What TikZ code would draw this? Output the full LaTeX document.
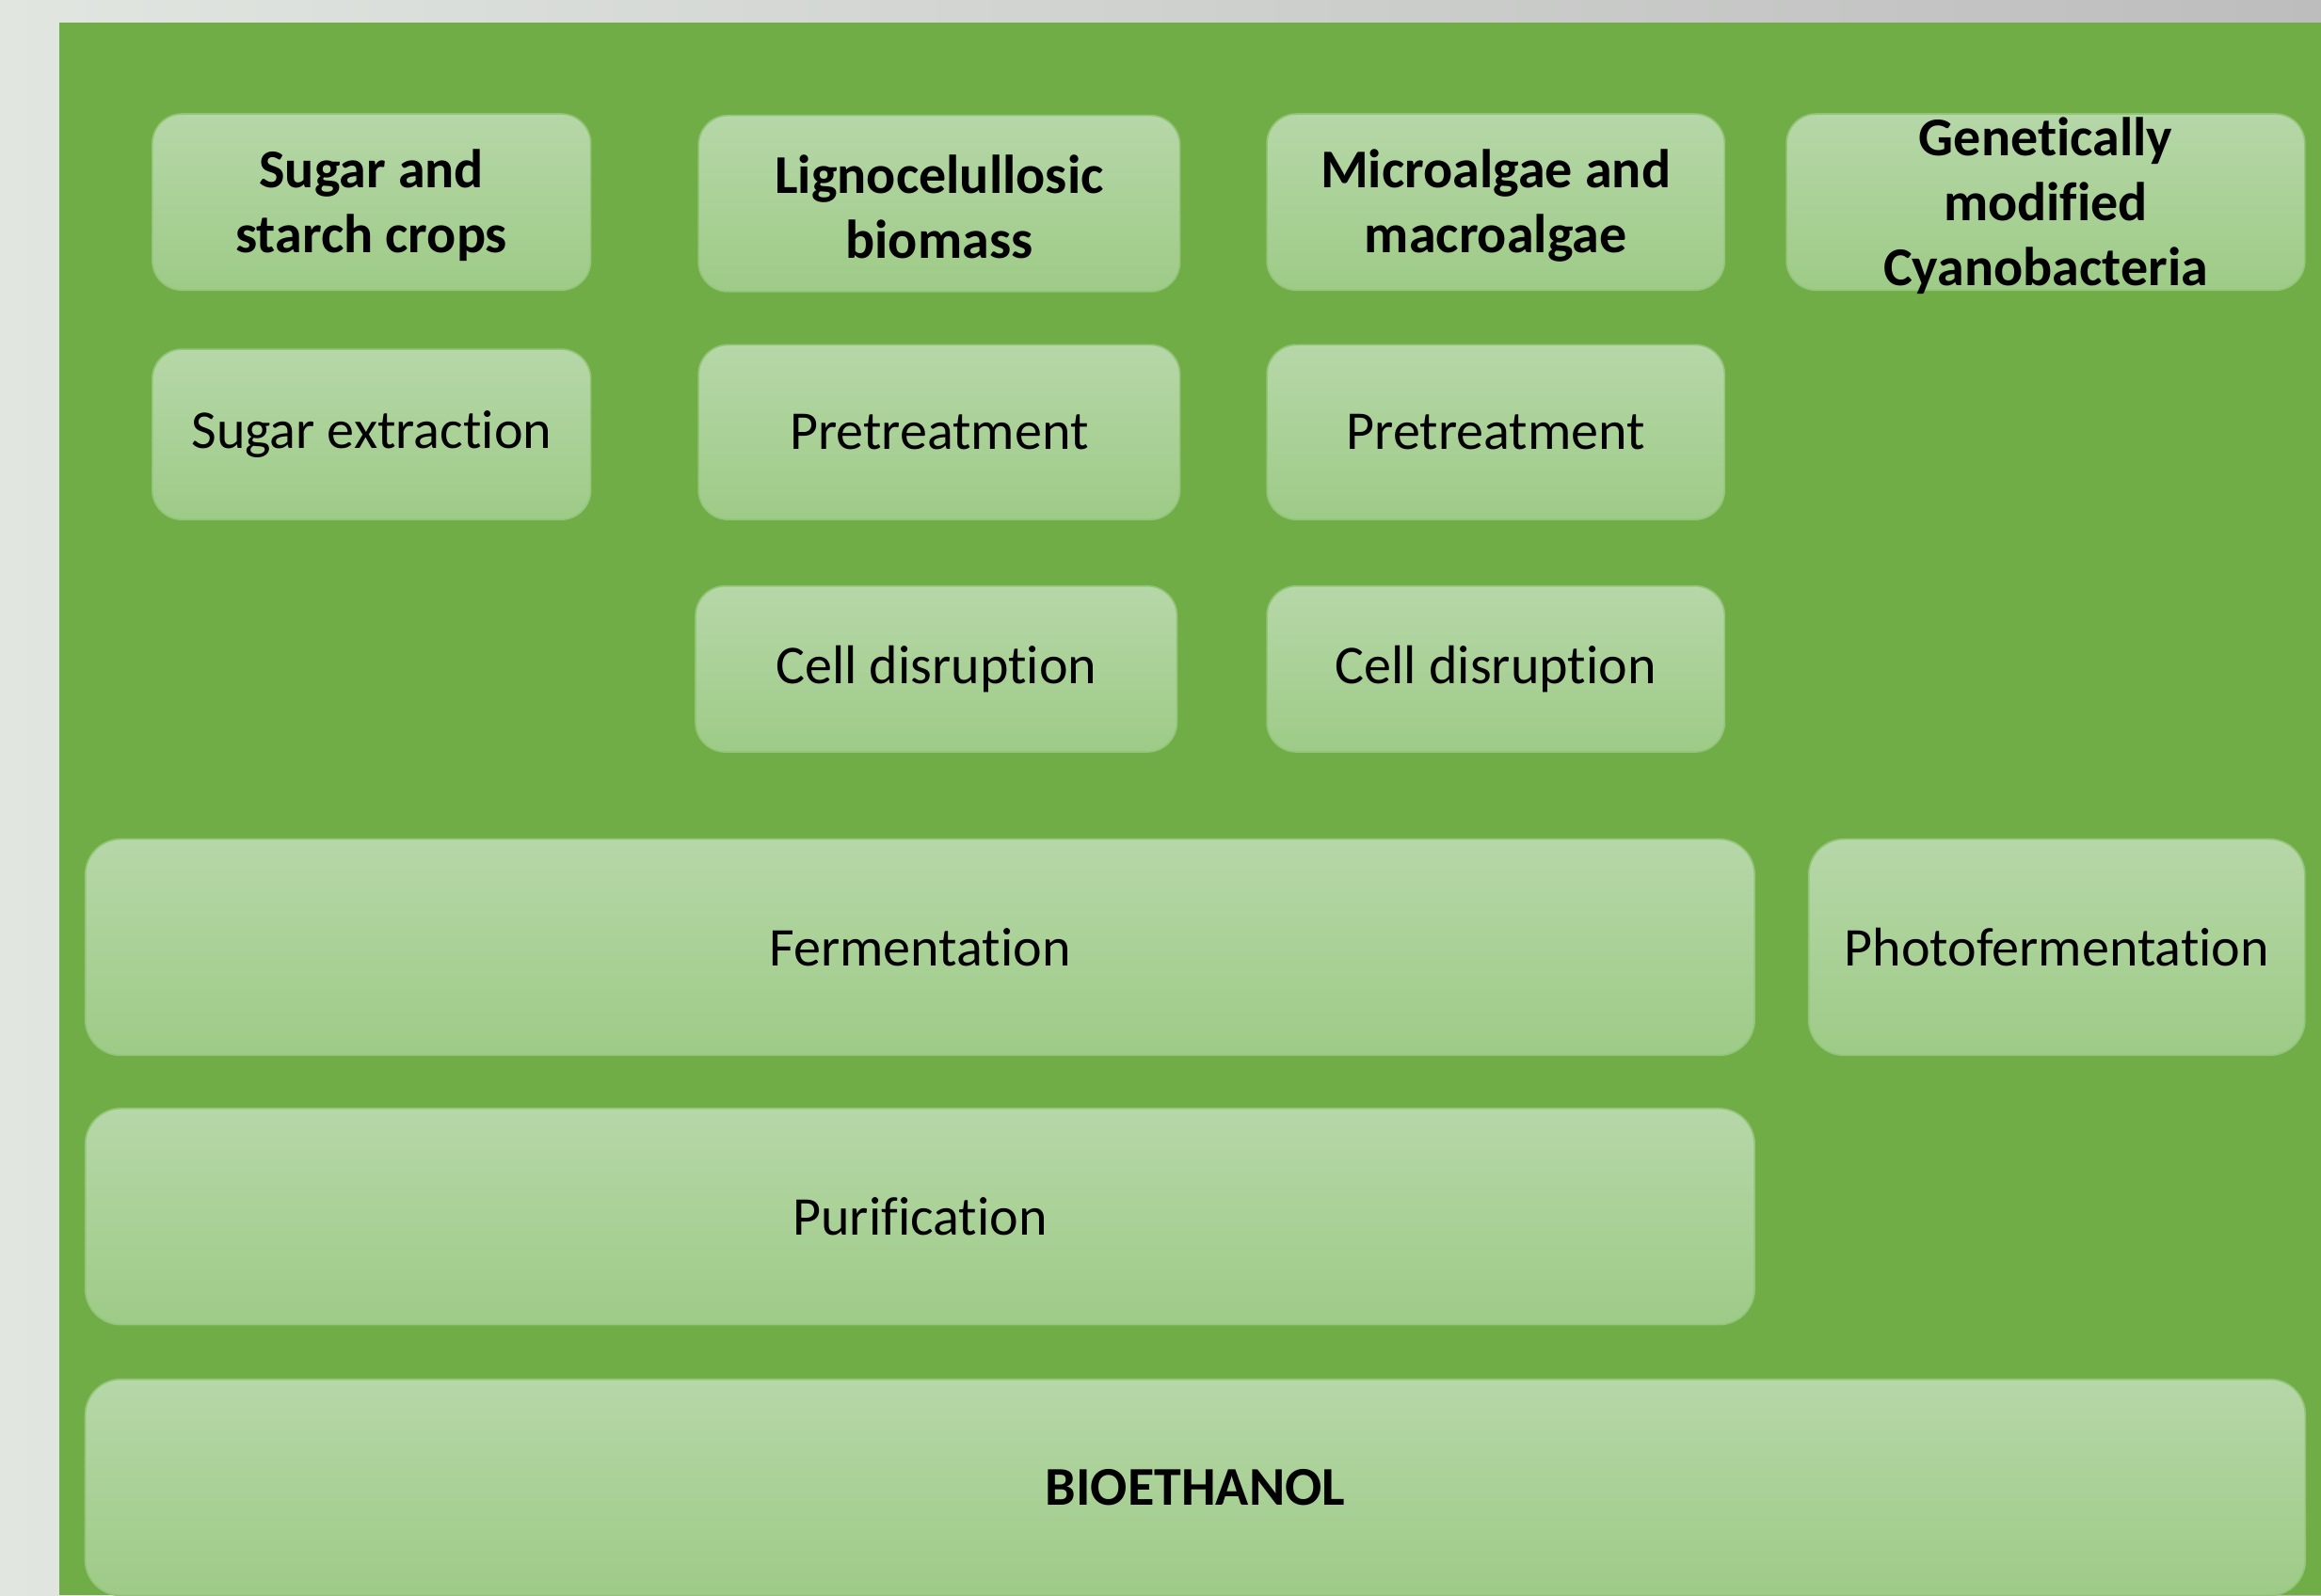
\documentclass[tikz,border=0pt]{standalone}
\usepackage{fontspec}
\setmainfont{Carlito}[Ligatures=CommonOff]
\definecolor{panelgreen}{HTML}{70AD47}
\definecolor{boxtop}{HTML}{B6D7A8}
\definecolor{boxbot}{HTML}{9ECB87}
\definecolor{boxedge}{HTML}{93C578}
\definecolor{backleft}{HTML}{E1E6E1}
\definecolor{backright}{HTML}{BDBDBD}
\tikzset{
  procbox/.style={rounded corners=2mm, top color=boxtop, bottom color=boxbot,
    draw=boxedge, line width=0.3pt, inner sep=0pt, align=center,
    font=\fontsize{10.5}{12.5}\selectfont},
  feedbox/.style={procbox, font=\fontsize{10.5}{12.5}\selectfont\bfseries},
  bigbox/.style={procbox, rounded corners=2.4mm, minimum height=1.46cm}
}
\begin{document}
\begin{tikzpicture}[x=0.01cm, y=-0.01cm]
  \useasboundingbox (0,0) rectangle (1568,1078);
  % backdrop and green panel
  \shade[left color=backleft, right color=backright] (0,0) rectangle (1568,1078);
  \fill[panelgreen] (40,15) rectangle (1568,1078);

  % feedstocks
  \node[feedbox, minimum width=2.96cm, minimum height=1.19cm] (sugar) at (251,136.5) {\strut Sugar and\\starch crops};
  \node[feedbox, minimum width=3.25cm, minimum height=1.19cm] (ligno) at (634.5,137.5) {\strut Lignocelullosic\\biomass};
  \node[feedbox, minimum width=3.09cm, minimum height=1.19cm] (algae) at (1010.5,136.5) {\strut Microalgae and\\macroalgae};
  \node[feedbox, minimum width=3.50cm, minimum height=1.19cm, inner ysep=-3pt] (cyano) at (1382,136.5) {\strut Genetically\\modified\\Cyanobacteria};

  % pretreatment steps
  \node[procbox, minimum width=2.96cm, minimum height=1.15cm] (extract) at (251,293.5) {Sugar extraction};
  \node[procbox, minimum width=3.25cm, minimum height=1.18cm] (pretA) at (634.5,292) {Pretreatment};
  \node[procbox, minimum width=3.09cm, minimum height=1.18cm] (pretB) at (1010.5,292) {Pretreatment};
  \node[procbox, minimum width=3.25cm, minimum height=1.12cm] (cellA) at (632.5,452) {Cell disruption};
  \node[procbox, minimum width=3.09cm, minimum height=1.12cm] (cellB) at (1010.5,452) {Cell disruption};

  % conversion and product
  \node[bigbox, minimum width=11.27cm] (ferment) at (621.5,640) {Fermentation};
  \node[bigbox, minimum width=3.35cm] (photo) at (1389.5,640) {Photofermentation};
  \node[bigbox, minimum width=11.27cm] (purify) at (621.5,822) {Purification};
  \node[bigbox, minimum width=14.99cm, font=\fontsize{10.5}{12.5}\selectfont\bfseries] (ethanol) at (807.5,1005) {BIOETHANOL};
\end{tikzpicture}
\end{document}
